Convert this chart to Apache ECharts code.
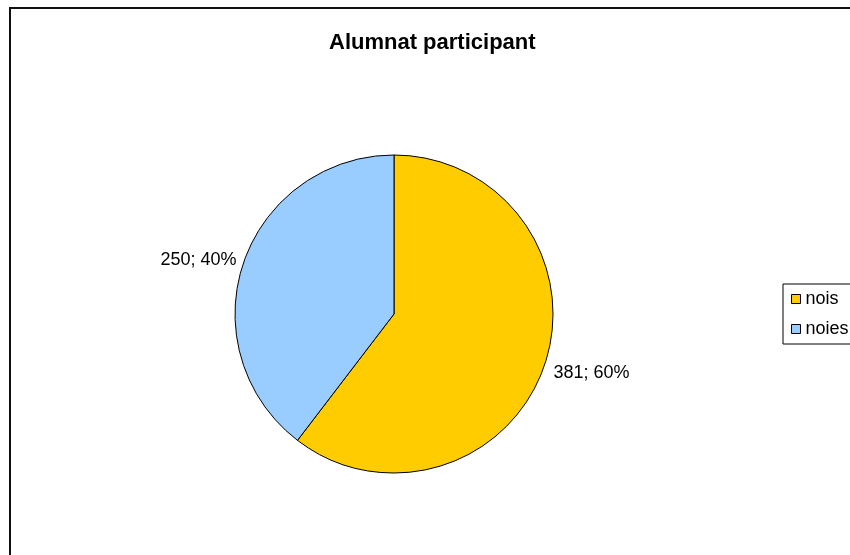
<!DOCTYPE html>
<html>
<head>
<meta charset="utf-8">
<script src="https://cdn.jsdelivr.net/npm/echarts@6/dist/echarts.min.js"></script>
<style>
html,body{margin:0;padding:0;background:#fff;}
#frame{position:absolute;left:9px;top:7px;width:841px;height:548px;border-left:2px solid #111;border-top:2px solid #111;box-sizing:border-box;}
#chart{position:absolute;left:0;top:0;width:850px;height:555px;}
</style>
</head>
<body>
<div id="frame"></div>
<div id="chart"></div>
<script>
const titleText = 'Alumnat participant';
const categories = ['nois', 'noies'];
const values = [381, 250];
const colors = ['#FFCC00', '#99CCFF'];

const total = values.reduce((a, b) => a + b, 0);
const labelShift = [[-4, 7], [6, -2]];
const chart = echarts.init(document.getElementById('chart'));
chart.setOption({
  animation: false,
  title: {
    text: titleText,
    left: 324,
    top: 27,
    padding: [5, 5, 5, 5],
    textStyle: { fontFamily: 'Liberation Sans, Arial', fontWeight: 'bold', fontSize: 22, color: '#000' }
  },
  legend: {
    orient: 'vertical',
    left: 783,
    top: 284,
    padding: [6, 40, 6, 8],
    itemGap: 12,
    itemWidth: 9,
    itemHeight: 9,
    icon: 'rect',
    borderColor: '#000',
    borderWidth: 1,
    backgroundColor: '#fff',
    textStyle: { fontFamily: 'Liberation Sans, Arial', fontSize: 18, color: '#000', padding: [0, 0, 0, 0] },
    itemStyle: { borderColor: '#000', borderWidth: 1 },
    data: categories
  },
  series: [{
    type: 'pie',
    center: [394, 314],
    radius: [0, 159],
    startAngle: 90,
    clockwise: true,
    color: colors,
    itemStyle: { borderColor: '#000', borderWidth: 1 },
    label: {
      show: true,
      position: 'outside',
      fontFamily: 'Liberation Sans, Arial',
      fontSize: 18,
      color: '#000',
      formatter: p => p.value + '; ' + Math.round(p.value / total * 100) + '%'
    },
    labelLine: { show: false, length: 4, length2: 4 },
    labelLayout: p => ({ dx: labelShift[p.dataIndex][0], dy: labelShift[p.dataIndex][1] }),
    emphasis: { disabled: true },
    data: categories.map((c, i) => ({ name: c, value: values[i] }))
  }]
});
</script>
</body>
</html>
